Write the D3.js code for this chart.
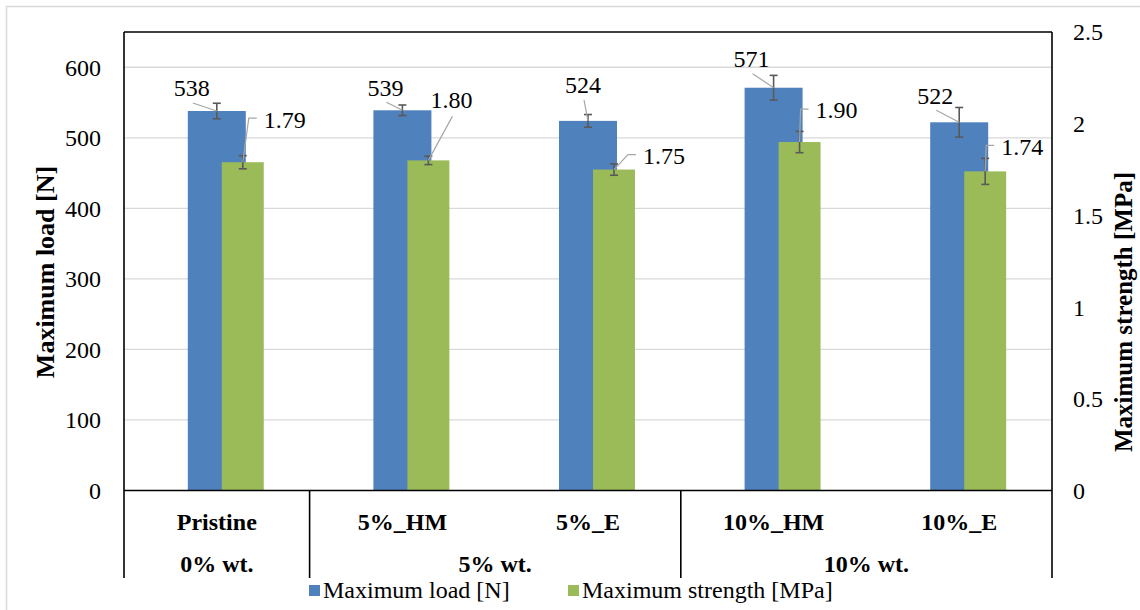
<!DOCTYPE html>
<html>
<head>
<meta charset="utf-8">
<script src="https://cdn.jsdelivr.net/npm/d3@7"></script>
<style>
  html, body { margin: 0; padding: 0; background: #fff; }
  svg { display: block; }
  svg text { font-family: "Liberation Serif", "Times New Roman", serif !important; }
</style>
</head>
<body>
<svg id="chart" width="1140" height="610"></svg>
<script>
// ---- data ----
const categories = ["Pristine", "5%_HM", "5%_E", "10%_HM", "10%_E"];
const groups = ["0% wt.", "5% wt.", "10% wt."];
const groupOf = [0, 1, 1, 2, 2];
const loadValues = [538, 539, 524, 571, 522];
const loadErrors = [11, 7.5, 9, 17.5, 21];
const strengthValues = [1.79, 1.80, 1.75, 1.90, 1.74];
const strengthErrors = [0.036, 0.023, 0.031, 0.058, 0.071];
const loadTicks = [0, 100, 200, 300, 400, 500, 600];
const strengthTicks = [0, 0.5, 1, 1.5, 2, 2.5];
const seriesNames = ["Maximum load [N]", "Maximum strength [MPa]"];

// ---- layout (label placement offsets relative to bar tops, in px) ----
const loadLabelOffset = [[-25, -23], [-17, -23], [-5, -36], [-22, -29], [-24, -27]];
const strengthLabelOffset = [[42, -43], [23, -61], [50, -14], [37, -32], [37, -25]];
const strengthLeaderType = ["left", "bottom", "left", "left", "left"];

const W = 1140, H = 610;
const L = 124, R = 1052, T = 32, B = 490.5, CATB = 578;
const blue = "#4f81bd", green = "#9bbb59";
const FONT = "Liberation Serif";

const svg = d3.select("#chart");

// outer chart border
svg.append("rect").attr("x", 6.5).attr("y", 6.5).attr("width", W).attr("height", H)
  .attr("fill", "#fff").attr("stroke", "#d9d9d9").attr("stroke-width", 1.5);

const x = d3.scaleBand().domain(categories).range([L, R]).paddingInner(0).paddingOuter(0);
const yL = d3.scaleLinear().domain([0, 650]).range([B, T]);
const yR = d3.scaleLinear().domain([0, 2.5]).range([B, T]);
const bw = x.bandwidth();
const blueW = bw * 0.3125, greenW = bw * 0.226, greenOff = bw * 0.14;

// gridlines
svg.append("g").selectAll("line").data(loadTicks.filter(d => d > 0)).join("line")
  .attr("x1", L).attr("x2", R).attr("y1", d => yL(d)).attr("y2", d => yL(d))
  .attr("stroke", "#d9d9d9").attr("stroke-width", 1.3);

// left axis labels
const axL = d3.axisLeft(yL).tickValues(loadTicks).tickSize(0).tickPadding(0);
const gL = svg.append("g").attr("transform", `translate(101,0)`).call(axL)
  .attr("font-family", FONT).attr("font-size", 24);
gL.select(".domain").remove();
gL.selectAll("text").attr("fill", "#000").attr("dy", "0.33em");

// right axis labels
const axR = d3.axisRight(yR).tickValues(strengthTicks).tickSize(0).tickPadding(0)
  .tickFormat(d => String(d));
const gR = svg.append("g").attr("transform", `translate(1073,0)`).call(axR)
  .attr("font-family", FONT).attr("font-size", 24);
gR.select(".domain").remove();
gR.selectAll("text").attr("fill", "#000").attr("dy", "0.33em");

// bars
const loadData = categories.map((c, i) => ({c, v: loadValues[i], e: loadErrors[i], i}));
const strData = categories.map((c, i) => ({c, v: strengthValues[i], e: strengthErrors[i], i}));
const cx = c => x(c) + bw / 2;

svg.append("g").selectAll("rect").data(loadData).join("rect")
  .attr("x", d => cx(d.c) - blueW / 2).attr("width", blueW)
  .attr("y", d => yL(d.v)).attr("height", d => B - yL(d.v)).attr("fill", blue);

svg.append("g").selectAll("rect").data(strData).join("rect")
  .attr("x", d => cx(d.c) + greenOff - greenW / 2).attr("width", greenW)
  .attr("y", d => yR(d.v)).attr("height", d => B - yR(d.v)).attr("fill", green);

// error bars
function errBars(data, xf, yf) {
  const g = svg.append("g").attr("stroke", "#595959").attr("stroke-width", 1.6);
  data.forEach(d => {
    const xx = xf(d), y1 = yf(d.v + d.e), y2 = yf(d.v - d.e);
    g.append("line").attr("x1", xx).attr("x2", xx).attr("y1", y1).attr("y2", y2);
    g.append("line").attr("x1", xx - 4).attr("x2", xx + 4).attr("y1", y1).attr("y2", y1);
    g.append("line").attr("x1", xx - 4).attr("x2", xx + 4).attr("y1", y2).attr("y2", y2);
  });
}
errBars(loadData, d => cx(d.c), yL);
errBars(strData, d => cx(d.c) + greenOff, yR);

// data labels + leader lines
const lead = svg.append("g").attr("stroke", "#a6a6a6").attr("stroke-width", 1.2).attr("fill", "none");
const labs = svg.append("g").attr("font-family", FONT).attr("font-size", 24)
  .attr("fill", "#000").attr("text-anchor", "middle");

loadData.forEach(d => {
  const px = cx(d.c), py = yL(d.v);
  const lx = px + loadLabelOffset[d.i][0], ly = py + loadLabelOffset[d.i][1];
  labs.append("text").attr("x", lx).attr("y", ly).attr("dy", "0.35em").text(String(d.v));
  lead.append("path").attr("d", `M${lx + 1},${ly + 15}L${px},${py}`);
});
strData.forEach(d => {
  const px = cx(d.c) + greenOff, py = yR(d.v);
  const lx = px + strengthLabelOffset[d.i][0], ly = py + strengthLabelOffset[d.i][1];
  const t = labs.append("text").attr("x", lx).attr("y", ly).attr("dy", "0.35em").text(d.v.toFixed(2));
  const w = t.node().getComputedTextLength();
  if (strengthLeaderType[d.i] === "left") {
    const left = lx - w / 2;
    lead.append("path").attr("d", `M${left - 7},${ly - 1}L${left - 15},${ly - 1}L${px},${py}`);
  } else {
    lead.append("path").attr("d", `M${lx + 1},${ly + 17}L${px},${py}`);
  }
});

// plot frame
const frame = svg.append("g").attr("stroke", "#000").attr("stroke-width", 1.6).attr("fill", "none");
frame.append("line").attr("x1", L).attr("x2", R).attr("y1", T).attr("y2", T);
frame.append("line").attr("x1", L).attr("x2", R).attr("y1", B).attr("y2", B);
frame.append("line").attr("x1", L).attr("x2", L).attr("y1", T).attr("y2", CATB);
frame.append("line").attr("x1", R).attr("x2", R).attr("y1", T).attr("y2", CATB);
const groupBounds = groups.map((g, gi) => {
  const idx = categories.map((c, i) => i).filter(i => groupOf[i] === gi);
  return {g, x0: x(categories[idx[0]]), x1: x(categories[idx[idx.length - 1]]) + bw};
});
groupBounds.slice(1).forEach(gb => {
  frame.append("line").attr("x1", gb.x0).attr("x2", gb.x0).attr("y1", B).attr("y2", CATB);
});

// category labels
svg.append("g").attr("font-family", FONT).selectAll("text").data(categories).join("text")
  .attr("x", c => cx(c)).attr("y", 522).attr("dy", "0.35em")
  .attr("text-anchor", "middle").attr("font-size", 24).attr("font-weight", "bold").text(c => c);
svg.append("g").attr("font-family", FONT).selectAll("text").data(groupBounds).join("text")
  .attr("x", d => (d.x0 + d.x1) / 2).attr("y", 564).attr("dy", "0.35em")
  .attr("text-anchor", "middle").attr("font-size", 24).attr("font-weight", "bold").text(d => d.g);

// axis titles
svg.append("text").attr("transform", `translate(45,272) rotate(-90)`).attr("font-family", FONT)
  .attr("text-anchor", "middle").attr("dy", "0.35em").attr("font-size", 26).attr("font-weight", "bold")
  .text("Maximum load [N]");
svg.append("text").attr("transform", `translate(1124,312) rotate(-90)`).attr("font-family", FONT)
  .attr("text-anchor", "middle").attr("dy", "0.33em").attr("font-size", 25).attr("font-weight", "bold")
  .text("Maximum strength [MPa]");

// legend
const leg = svg.append("g").attr("font-family", FONT);
const legX = [309, 568];
seriesNames.forEach((n, i) => {
  leg.append("rect").attr("x", legX[i]).attr("y", 585).attr("width", 11).attr("height", 11)
    .attr("fill", i === 0 ? blue : green);
  leg.append("text").attr("x", legX[i] + 14).attr("y", 590).attr("dy", "0.35em")
    .attr("font-size", 24).text(n);
});
</script>
</body>
</html>
